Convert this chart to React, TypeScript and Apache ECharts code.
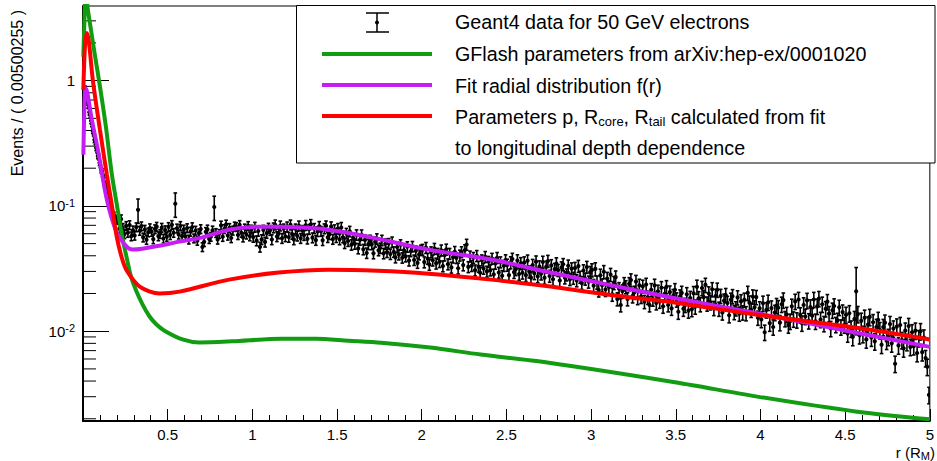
import React, { useEffect, useRef } from 'react';
import * as echarts from 'echarts';

// ---- histogram binning (bin centres) ----
const coreBinWidth = 0.005;
const tailStart = 0.2;
const tailBinWidth = 0.01;

// Geant4 data, r in [0, 0.2)
const coreValues = [
  0.49, 0.74, 0.86, 0.8, 0.77, 0.67, 0.64, 0.56, 0.53, 0.478,
  0.451, 0.398, 0.381, 0.337, 0.325, 0.291, 0.279, 0.251, 0.246, 0.221,
  0.212, 0.193, 0.189, 0.171, 0.167, 0.15, 0.147, 0.133, 0.129, 0.117,
  0.114, 0.102, 0.0998, 0.0921, 0.0909, 0.0852, 0.0847, 0.0795, 0.0789, 0.0751,
];

// Geant4 data, r in [0.2, 5.0)
const tailValues = [
  0.0778, 0.066, 0.0784, 0.0669, 0.0596, 0.0693, 0.0611, 0.0704, 0.0573, 0.0639,
  0.058, 0.0677, 0.093, 0.0634, 0.0689, 0.0561, 0.0647, 0.0537, 0.0616, 0.0665,
  0.0622, 0.0543, 0.0653, 0.0683, 0.0573, 0.0598, 0.0671, 0.0549, 0.0641, 0.0567,
  0.068, 0.0586, 0.0706, 0.0611, 0.104, 0.0662, 0.0592, 0.0693, 0.0573, 0.0649,
  0.057, 0.0666, 0.054, 0.0624, 0.0678, 0.0552, 0.0636, 0.0528, 0.0606, 0.0654,
  0.047, 0.0516, 0.0621, 0.065, 0.0545, 0.0568, 0.0638, 0.098, 0.0609, 0.0539,
  0.0599, 0.0699, 0.0567, 0.0655, 0.0712, 0.058, 0.0668, 0.0554, 0.0636, 0.0687,
  0.068, 0.0586, 0.0706, 0.0611, 0.0561, 0.0662, 0.0592, 0.0693, 0.0573, 0.0649,
  0.0564, 0.0678, 0.0528, 0.063, 0.047, 0.054, 0.0642, 0.0516, 0.0606, 0.0666,
  0.0639, 0.0539, 0.067, 0.0707, 0.057, 0.0601, 0.0694, 0.0552, 0.0657, 0.057,
  0.0682, 0.0564, 0.0707, 0.0595, 0.0539, 0.0657, 0.0577, 0.0694, 0.0552, 0.0639,
  0.0583, 0.0701, 0.0546, 0.0651, 0.0713, 0.0558, 0.0663, 0.0533, 0.0626, 0.0688,
  0.0628, 0.0531, 0.0659, 0.0695, 0.0561, 0.0592, 0.0683, 0.0543, 0.0647, 0.0561,
  0.066, 0.0541, 0.0673, 0.0562, 0.0505, 0.0604, 0.0525, 0.0627, 0.049, 0.0556,
  0.0498, 0.0588, 0.0458, 0.0536, 0.0587, 0.045, 0.0535, 0.0421, 0.0495, 0.0533,
  0.0494, 0.0418, 0.0518, 0.0547, 0.0442, 0.0461, 0.0532, 0.0418, 0.0498, 0.0428,
  0.0501, 0.0413, 0.0515, 0.043, 0.0388, 0.0469, 0.0409, 0.049, 0.0386, 0.0443,
  0.0395, 0.0472, 0.0366, 0.0435, 0.0475, 0.037, 0.0438, 0.0351, 0.041, 0.0444,
  0.0448, 0.0356, 0.0464, 0.038, 0.034, 0.0428, 0.0368, 0.0456, 0.0348, 0.0416,
  0.0358, 0.0443, 0.0331, 0.0404, 0.045, 0.0343, 0.0416, 0.0323, 0.0389, 0.0431,
  0.0385, 0.0318, 0.0403, 0.0429, 0.0337, 0.0445, 0.0492, 0.0326, 0.0396, 0.0333,
  0.0386, 0.0307, 0.04, 0.0328, 0.0293, 0.0369, 0.0317, 0.0393, 0.03, 0.0359,
  0.0307, 0.038, 0.0284, 0.0347, 0.0386, 0.0294, 0.0356, 0.0277, 0.0333, 0.037,
  0.0338, 0.028, 0.0354, 0.0377, 0.0296, 0.0312, 0.0367, 0.0286, 0.0348, 0.0293,
  0.0353, 0.028, 0.0365, 0.0299, 0.0268, 0.0337, 0.029, 0.0359, 0.0274, 0.0328,
  0.0288, 0.0357, 0.0267, 0.0326, 0.0363, 0.0276, 0.0335, 0.026, 0.0313, 0.0347,
  0.0307, 0.0254, 0.0322, 0.0342, 0.0268, 0.0283, 0.0333, 0.026, 0.0316, 0.0266,
  0.0319, 0.0254, 0.0331, 0.0271, 0.0242, 0.0305, 0.0262, 0.0325, 0.0248, 0.0296,
  0.0308, 0.0231, 0.0314, 0.0246, 0.0213, 0.0279, 0.0233, 0.0298, 0.0215, 0.0263,
  0.0225, 0.0283, 0.0197, 0.0244, 0.027, 0.0181, 0.0218, 0.0162, 0.0209, 0.0239,
  0.0226, 0.0181, 0.0239, 0.0256, 0.0191, 0.0204, 0.0249, 0.0185, 0.0232, 0.0189,
  0.0228, 0.0172, 0.0236, 0.0186, 0.0162, 0.0214, 0.018, 0.0232, 0.0168, 0.0208,
  0.0173, 0.0222, 0.0158, 0.0199, 0.0226, 0.0162, 0.0205, 0.0152, 0.0192, 0.0214,
  0.0179, 0.0143, 0.0189, 0.0202, 0.0151, 0.0162, 0.0197, 0.0146, 0.0184, 0.015,
  0.0201, 0.0157, 0.0226, 0.0183, 0.0164, 0.0221, 0.0187, 0.0234, 0.0166, 0.02,
  0.017, 0.0216, 0.0153, 0.0191, 0.0214, 0.0151, 0.0191, 0.0141, 0.0175, 0.0194,
  0.0168, 0.0134, 0.0178, 0.019, 0.0142, 0.0152, 0.0186, 0.0138, 0.0173, 0.0141,
  0.0178, 0.0139, 0.0202, 0.0169, 0.0148, 0.0189, 0.0155, 0.0187, 0.0128, 0.0152,
  0.0124, 0.0167, 0.0098, 0.0148, 0.017, 0.0116, 0.0153, 0.0108, 0.0141, 0.016,
  0.0154, 0.0117, 0.0164, 0.0177, 0.0126, 0.0136, 0.0112, 0.012, 0.0158, 0.0125,
  0.0173, 0.0123, 0.0179, 0.0135, 0.0116, 0.0162, 0.0131, 0.0176, 0.0121, 0.0156,
  0.0133, 0.0179, 0.012, 0.0158, 0.0182, 0.0124, 0.0164, 0.0115, 0.0151, 0.0172,
  0.0138, 0.0105, 0.0147, 0.0159, 0.0113, 0.0122, 0.0155, 0.0108, 0.0142, 0.0112,
  0.0135, 0.0096, 0.0139, 0.0105, 0.009, 0.0125, 0.0208, 0.0137, 0.0093, 0.0121,
  0.0095, 0.0128, 0.0086, 0.0113, 0.013, 0.0089, 0.0118, 0.0083, 0.0108, 0.0123,
  0.0102, 0.0078, 0.0108, 0.0117, 0.0084, 0.009, 0.0114, 0.008, 0.0105, 0.0055,
  0.0109, 0.0077, 0.0112, 0.0085, 0.0073, 0.0101, 0.0082, 0.011, 0.0075, 0.0098,
  0.0076, 0.0101, 0.0067, 0.0088, 0.01, 0.0068, 0.0089, 0.0061, 0.0052, 0.0031,
];

// typical relative error per 0.5-wide r range, and bins with large errors
const coreRelErr = 0.05;
const errLevels = [0.08, 0.08, 0.09, 0.095, 0.1, 0.11, 0.12, 0.13, 0.14, 0.15];
const spikeErrors: [number, number][] = [[0.325, 0.22], [0.545, 0.22], [0.775, 0.22], [4.565, 0.55]];

// Curves [r, value]
const greenCurve: [number, number][] = [
  [0.002, 1.55], [0.008, 2.9], [0.014, 5.0], [0.019, 5.6], [0.026, 3.94],
  [0.05, 2.4], [0.07, 1.6], [0.1, 0.9], [0.135, 0.43], [0.17, 0.18], [0.2, 0.102],
  [0.229, 0.059], [0.258, 0.0386], [0.282, 0.0277], [0.311, 0.0215], [0.352, 0.0163],
  [0.393, 0.0131], [0.434, 0.0113], [0.481, 0.0101], [0.587, 0.0086], [0.687, 0.00813],
  [0.88, 0.0083], [1.174, 0.0087], [1.373, 0.0087], [1.567, 0.0084], [1.761, 0.0081],
  [2.05, 0.0074], [2.347, 0.00652], [2.741, 0.00563], [3.504, 0.0039], [3.973, 0.00302],
  [4.56, 0.00229], [5.0, 0.00198],
];
const purpleCurve: [number, number][] = [
  [0.002, 0.256], [0.008, 0.585], [0.015, 0.875], [0.025, 0.81], [0.05, 0.505], [0.088, 0.28],
  [0.141, 0.112], [0.2, 0.061], [0.258, 0.0473], [0.293, 0.0448], [0.35, 0.0455], [0.45, 0.0481],
  [0.57, 0.0519], [0.7, 0.0558], [0.862, 0.0646], [1.0, 0.068], [1.155, 0.0683], [1.3, 0.0672],
  [1.449, 0.0646], [1.684, 0.0568], [2.04, 0.0448], [2.41, 0.0373], [2.76, 0.0294],
  [3.15, 0.0228], [3.5, 0.0183], [3.97, 0.014], [4.56, 0.00977], [5.0, 0.0075],
];
const redCurve: [number, number][] = [
  [0.002, 0.843], [0.012, 1.92], [0.023, 2.4], [0.035, 2.03], [0.058, 1.01], [0.1, 0.405],
  [0.141, 0.177], [0.17, 0.102], [0.199, 0.0568], [0.229, 0.0386], [0.258, 0.0305],
  [0.335, 0.0227], [0.452, 0.02], [0.57, 0.0207], [0.862, 0.0258], [1.155, 0.0294],
  [1.449, 0.031], [1.74, 0.0304], [2.04, 0.0288], [2.41, 0.0258], [2.76, 0.0227],
  [3.15, 0.0192], [3.5, 0.0169], [3.97, 0.0136], [4.56, 0.0107], [5.0, 0.0086],
];

const yMinorTicks = [
  0.002, 0.003, 0.004, 0.005, 0.006, 0.007, 0.008, 0.009,
  0.02, 0.03, 0.04, 0.05, 0.06, 0.07, 0.08, 0.09,
  0.2, 0.3, 0.4, 0.5, 0.6, 0.7, 0.8, 0.9, 2, 3,
];

const seriesNames = [
  'Geant4 data for 50 GeV electrons',
  'GFlash parameters from arXiv:hep-ex/0001020',
  'Fit radial distribution f(r)',
];
const xRange = [0, 5];
const xInterval = 0.5;
const yRange = [0.00192, 3.94];

const FONT = '"Liberation Sans", Arial, Helvetica, sans-serif';
const GREEN = '#119c11';
const PURPLE = '#c41ef5';
const RED = '#ff0000';

function relErrFor(r: number, core: boolean): number {
  for (const [sr, e] of spikeErrors) if (Math.abs(sr - r) < 0.001) return e;
  if (core) return coreRelErr;
  return errLevels[Math.min(errLevels.length - 1, Math.floor(r / 0.5))];
}

const dataPoints = [
  ...coreValues.map((v, i) => [coreBinWidth * (i + 0.5), v, true] as [number, number, boolean]),
  ...tailValues.map((v, i) => [tailStart + tailBinWidth * (i + 0.5), v, false] as [number, number, boolean]),
].map(([r, v, core]) => {
  const e = v * relErrFor(r, core);
  return [r, v, v - e, v + e];
});

export default function App() {
  const ref = useRef<HTMLDivElement>(null);
  useEffect(() => {
    if (!ref.current) return;
    const chart = echarts.init(ref.current, undefined, { renderer: 'svg' });
    const black = '#000';
    const legendText = (text: string, y: number) => ({
      type: 'text', x: 455, y,
      style: { text, fontSize: 19.7, fontFamily: FONT, fill: black, verticalAlign: 'middle' },
    });
    const option: any = {
      animation: false,
      backgroundColor: '#fff',
      textStyle: { fontFamily: FONT },
      grid: { left: 83, top: 6, right: 2, bottom: 40, show: true, borderColor: black, borderWidth: 1, backgroundColor: '#fff' },
      xAxis: {
        type: 'value', min: xRange[0], max: xRange[1], interval: xInterval,
        axisLine: { lineStyle: { color: black, width: 2 } },
        axisTick: { inside: true, length: 12, lineStyle: { color: black, width: 1 } },
        minorTick: { show: true, splitNumber: 5, length: 6, lineStyle: { color: black, width: 1 } },
        splitLine: { show: false },
        axisLabel: {
          color: black, fontSize: 15, fontFamily: FONT, margin: 6, showMinLabel: false,
          formatter: (v: number) => (v === 0 ? '' : String(v)),
        },
      },
      yAxis: {
        type: 'log', logBase: 10, min: yRange[0], max: yRange[1],
        axisLine: { show: true, lineStyle: { color: black, width: 2 } },
        axisTick: { show: true, inside: true, length: 26, lineStyle: { color: black, width: 1 } },
        splitLine: { show: false },
        axisLabel: {
          color: black, fontSize: 15, fontFamily: FONT, margin: 8, showMinLabel: false, showMaxLabel: false,
          formatter: (v: number) => {
            const l = Math.log10(v);
            const e = Math.round(l);
            if (Math.abs(l - e) > 0.01) return '';
            if (e === 0) return '1';
            return `10{sup|${e}}`;
          },
          rich: {
            sup: { fontSize: 11, fontFamily: FONT, color: black, verticalAlign: 'top', padding: [0, 0, 6, 0] },
          },
        },
      },
      series: [
        {
          type: 'custom', name: seriesNames[0], data: dataPoints, clip: true, progressive: 0,
          encode: { x: 0, y: 1 },
          renderItem: (_p: any, api: any) => {
            const x = api.value(0);
            const c = api.coord([x, api.value(1)]);
            const lo = api.coord([x, api.value(2)]);
            const hi = api.coord([x, api.value(3)]);
            const st = { stroke: black, lineWidth: 1.6 };
            return {
              type: 'group', children: [
                { type: 'line', shape: { x1: c[0], y1: lo[1], x2: c[0], y2: hi[1] }, style: st },
                { type: 'line', shape: { x1: c[0] - 1.8, y1: lo[1], x2: c[0] + 1.8, y2: lo[1] }, style: st },
                { type: 'line', shape: { x1: c[0] - 1.8, y1: hi[1], x2: c[0] + 1.8, y2: hi[1] }, style: st },
                { type: 'circle', shape: { cx: c[0], cy: c[1], r: 2.1 }, style: { fill: black } },
              ],
            };
          },
        },
        {
          type: 'line', name: seriesNames[1], data: greenCurve, showSymbol: false, smooth: 0.3, clip: true,
          lineStyle: { color: GREEN, width: 4 },
        },
        {
          type: 'line', name: seriesNames[2], data: purpleCurve, showSymbol: false, smooth: 0.3, clip: true,
          lineStyle: { color: PURPLE, width: 4 },
        },
        {
          type: 'line', name: 'Parameters p, Rcore, Rtail calculated from fit', data: redCurve, showSymbol: false, smooth: 0.3, clip: true,
          lineStyle: { color: RED, width: 4 },
        },
        {
          type: 'custom', name: 'minor ticks', data: yMinorTicks.map((v) => [xRange[0], v]), clip: false,
          encode: { x: 0, y: 1 }, silent: true,
          renderItem: (_p: any, api: any) => {
            const c = api.coord([api.value(0), api.value(1)]);
            return { type: 'line', shape: { x1: c[0], y1: c[1], x2: c[0] + 13, y2: c[1] }, style: { stroke: black, lineWidth: 1 } };
          },
        },
      ],
      graphic: [
        {
          type: 'text', x: 17, y: 10, rotation: Math.PI / 2,
          style: { text: 'Events / ( 0.00500255 )', fontSize: 16, fontFamily: FONT, fill: black, align: 'right', verticalAlign: 'middle' },
        },
        {
          type: 'text', x: 935, y: 452,
          style: {
            text: 'r (R{sub|M})', fontSize: 15, fontFamily: FONT, fill: black, align: 'right', verticalAlign: 'middle',
            rich: { sub: { fontSize: 11, fontFamily: FONT, fill: black, padding: [7, 0, 0, 0] } },
          },
        },
        {
          type: 'group',
          children: [
            { type: 'rect', shape: { x: 296.5, y: 5.5, width: 638.5, height: 157.5 }, style: { fill: '#fff', stroke: black, lineWidth: 1 } },
            { type: 'line', shape: { x1: 377, y1: 13, x2: 377, y2: 32 }, style: { stroke: black, lineWidth: 1.5 } },
            { type: 'line', shape: { x1: 366, y1: 13, x2: 389, y2: 13 }, style: { stroke: black, lineWidth: 1.5 } },
            { type: 'line', shape: { x1: 366, y1: 32, x2: 389, y2: 32 }, style: { stroke: black, lineWidth: 1.5 } },
            { type: 'circle', shape: { cx: 377, cy: 22.5, r: 2 }, style: { fill: black } },
            { type: 'line', shape: { x1: 322, y1: 54, x2: 432, y2: 54 }, style: { stroke: GREEN, lineWidth: 4 } },
            { type: 'line', shape: { x1: 322, y1: 85, x2: 432, y2: 85 }, style: { stroke: PURPLE, lineWidth: 4 } },
            { type: 'line', shape: { x1: 322, y1: 116, x2: 432, y2: 116 }, style: { stroke: RED, lineWidth: 4 } },
            legendText(seriesNames[0], 22),
            legendText(seriesNames[1], 54),
            legendText(seriesNames[2], 86),
            {
              type: 'text', x: 455, y: 117,
              style: {
                text: 'Parameters p, R{sub|core}, R{sub|tail} calculated from fit', fontSize: 19.7, fontFamily: FONT, fill: black, verticalAlign: 'middle',
                rich: { sub: { fontSize: 13, fontFamily: FONT, fill: black, padding: [9, 0, 0, 0] } },
              },
            },
            legendText('to longitudinal depth dependence', 148),
          ],
        },
      ],
    };
    chart.setOption(option);
    return () => chart.dispose();
  }, []);
  return <div ref={ref} style={{ position: 'absolute', left: 0, top: 0, width: 937, height: 461 }} />;
}
